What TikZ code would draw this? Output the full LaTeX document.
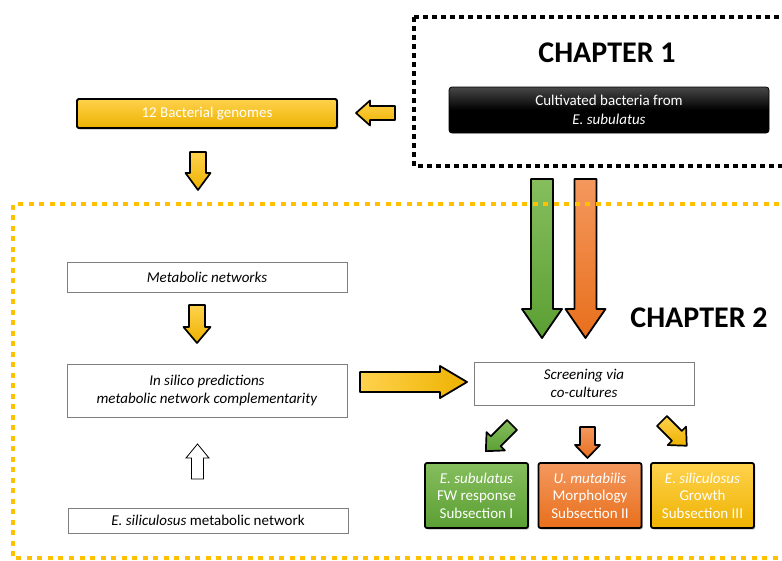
\documentclass[tikz,border=0pt]{standalone}
\usepackage{fontspec}
\setmainfont{Carlito}
\usetikzlibrary{shadows}
\definecolor{gold}{HTML}{FFC000}
\definecolor{goldL}{HTML}{FFD24D}
\definecolor{goldD}{HTML}{EDB200}
\definecolor{grnL}{HTML}{86BE5E}
\definecolor{grnD}{HTML}{5B9F33}
\definecolor{orgL}{HTML}{F4985E}
\definecolor{orgD}{HTML}{E86F1C}
\definecolor{edgegray}{HTML}{7F7F7F}
\newcommand\BArrow[8]{%
  \begin{scope}[shift={(#1,#2)},rotate=#3]
    \draw[#8] (0,-#5) -- ({#4-#7},-#5) -- ({#4-#7},-#6) -- (#4,0) -- ({#4-#7},#6) -- ({#4-#7},#5) -- (0,#5) -- cycle;
  \end{scope}}
\tikzset{
  txt/.style={font=\fontsize{15}{18.5}\selectfont},
  whitebox/.style={draw=edgegray, line width=0.9pt, fill=white, align=center, txt, inner sep=0pt},
  colbox/.style={draw=black, line width=1.8pt, rounded corners=2pt, align=center, text=white,
    font=\fontsize{15}{17.5}\selectfont, minimum width=103pt, minimum height=65pt, inner sep=0pt,
    drop shadow={shadow xshift=1.3pt, shadow yshift=-1.6pt, opacity=0.5}},
  goldarrow/.style={draw=black, line width=1.7pt, line join=round, top color=goldL, bottom color=goldD},
  chap/.style={font=\fontsize{30}{34}\selectfont\bfseries},
}
\begin{document}
\begin{tikzpicture}[x=1pt,y=-1pt]
\useasboundingbox (0,0) rectangle (782,560);
\clip (0,0) rectangle (782,560);

% chapter 1 frame
\draw[line width=4pt, dash pattern=on 4.5pt off 4.5pt] (414,17) -- (414,166) -- (800,166);
\draw[line width=4pt, dash pattern=on 4.5pt off 4.5pt] (414,17) -- (800,17);
\node[chap] (ch1) at (607,53) {CHAPTER 1};
\node[draw=black, line width=0.8pt, rounded corners=3pt, top color=black!72, bottom color=black, middle color=black,
      minimum width=320pt, minimum height=46pt, align=center, text=white, txt, inner sep=0pt]
      (cult) at (609,110) {Cultivated bacteria from\\\textit{E. subulatus}};

% genomes
\node[draw=black, line width=1.8pt, rounded corners=1.5pt, top color=goldL, bottom color=goldD,
      minimum width=260pt, minimum height=29pt, text=white, txt, inner sep=0pt,
      drop shadow={shadow xshift=1.3pt, shadow yshift=-1.6pt, opacity=0.5}]
      (gen) at (207,113.5) {12 Bacterial genomes};

% arrows top
\BArrow{395}{113}{180}{39}{7}{12.5}{14}{goldarrow}
\BArrow{198}{152}{-90}{38}{8}{12.5}{17}{goldarrow}

% big arrows
\BArrow{542}{179}{-90}{159}{11}{20}{29}{draw=black, line width=1.8pt, line join=round, top color=grnL, bottom color=grnD}
\BArrow{585.5}{179}{-90}{159}{11}{20}{29}{draw=black, line width=1.8pt, line join=round, top color=orgL, bottom color=orgD}

% chapter 2 frame
\draw[gold, line width=3.5pt, dash pattern=on 5pt off 5.5pt] (800,204) -- (13,204) -- (13,558) -- (800,558);
\node[chap] (ch2) at (699,318) {CHAPTER 2};

% left column
\node[whitebox, minimum width=280pt, minimum height=30pt] (met) at (207,277) {\textit{Metabolic networks}};
\node[whitebox, minimum width=280pt, minimum height=53pt] (insil) at (207,390.5)
  {\textit{In silico predictions}\\\textit{metabolic network complementarity}};
\node[whitebox, minimum width=280pt, minimum height=25pt] (esil) at (208,520.5)
  {\textit{E. siliculosus} metabolic network};
\BArrow{197}{305}{-90}{38}{8}{13.5}{16}{goldarrow}
\BArrow{197.5}{479}{90}{35}{6}{11.5}{14}{draw=black, line width=0.8pt, fill=white}

% right side
\BArrow{360}{382}{0}{107}{10}{16}{27}{draw=black, line width=1.8pt, line join=round, left color=goldL, right color=goldD}
\node[whitebox, minimum width=220pt, minimum height=43pt] (scr) at (584,383.5)
  {\textit{Screening via}\\\textit{co-cultures}};

\BArrow{512}{425}{-135}{37}{7}{13}{14}{draw=black, line width=1.7pt, line join=round, top color=grnL, bottom color=grnD}
\BArrow{587.5}{427}{-90}{31}{7.5}{12.5}{13}{draw=black, line width=1.7pt, line join=round, top color=orgL, bottom color=orgD}
\BArrow{662}{421}{-45}{35}{7}{13}{14}{goldarrow}

\node[colbox, top color=grnL, bottom color=grnD] (gbox) at (476.5,495.5)
  {\textit{E. subulatus}\\FW response\\Subsection I};
\node[colbox, top color=orgL, bottom color=orgD] (obox) at (590,495.5)
  {\textit{U. mutabilis}\\Morphology\\Subsection II};
\node[colbox, top color=goldL, bottom color=goldD] (ybox) at (702.5,495.5)
  {\textit{E. siliculosus}\\Growth\\Subsection III};
\end{tikzpicture}
\end{document}
